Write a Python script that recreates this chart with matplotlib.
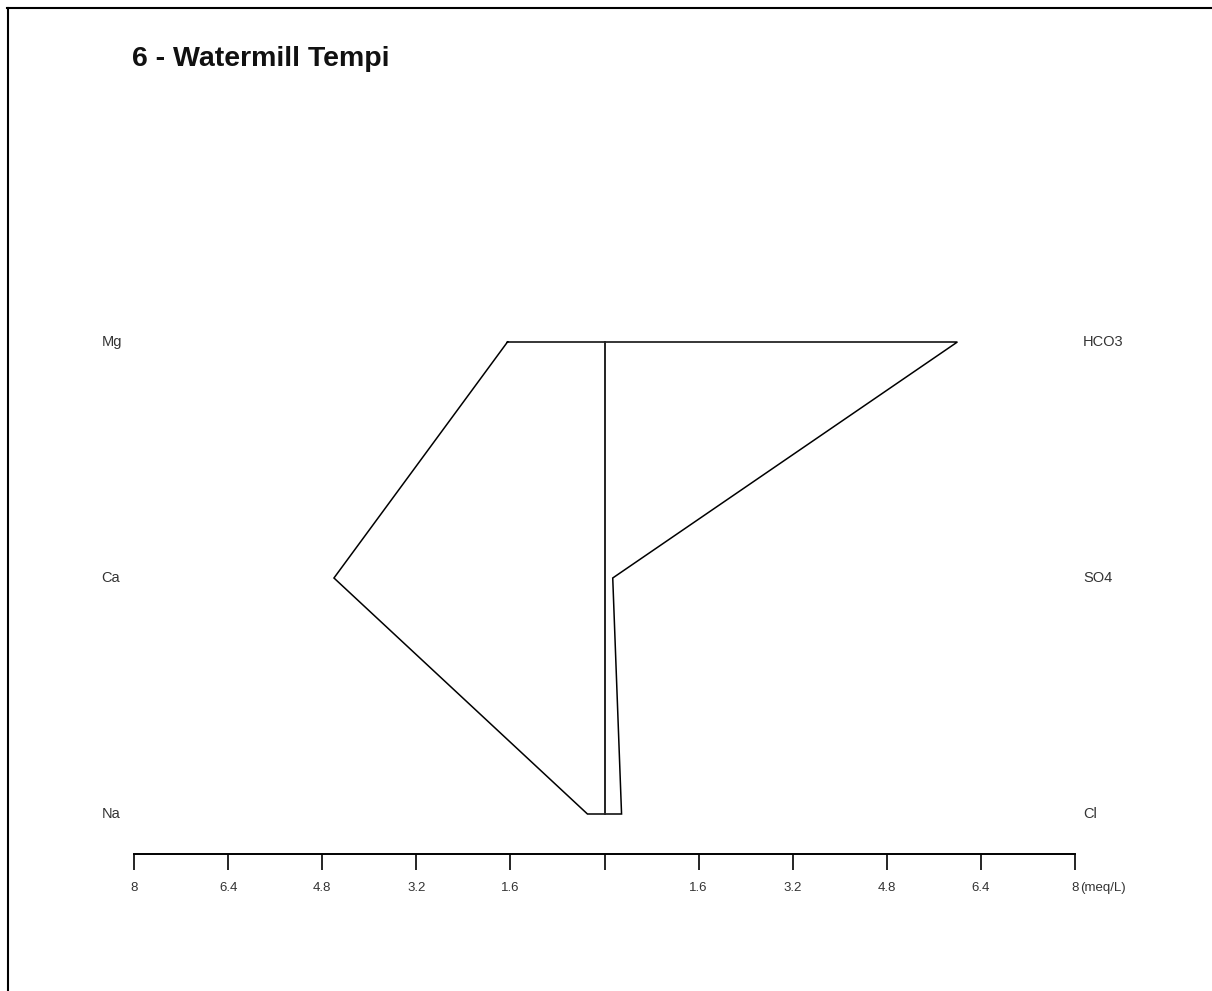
import matplotlib
matplotlib.use("Agg")
import matplotlib.pyplot as plt
from matplotlib.lines import Line2D

plt.rcParams['font.family'] = ['Liberation Sans', 'DejaVu Sans']

# Stiff diagram data (meq/L)
title = "6 - Watermill Tempi"
cations = ["Na", "Ca", "Mg"]          # bottom to top
cation_values = [0.29, 4.60, 1.65]
anions = ["Cl", "SO4", "HCO3"]        # bottom to top
anion_values = [0.29, 0.14, 6.00]
tick_values = [-8, -6.4, -4.8, -3.2, -1.6, 0, 1.6, 3.2, 4.8, 6.4, 8]
tick_labels = ["8", "6.4", "4.8", "3.2", "1.6", "", "1.6", "3.2", "4.8", "6.4", "8"]
unit_label = "(meq/L)"

W, H = 1212, 991
fig = plt.figure(figsize=(W / 100, H / 100), dpi=100)
fig.patch.set_facecolor("white")

# Axes box: x from -8..8, rows at 0,1,2
left_px, right_px = 134, 1075
top_px, base_px = 342, 854
row0_px = 814
row_step = (row0_px - top_px) / 2.0
ymin = -(base_px - row0_px) / row_step
ax = fig.add_axes([left_px / W, (H - base_px) / H,
                   (right_px - left_px) / W, (base_px - top_px) / H])
ax.set_xlim(-8, 8)
ax.set_ylim(ymin, 2)
ax.set_facecolor("none")
for s in ["top", "left", "right"]:
    ax.spines[s].set_visible(False)
ax.spines["bottom"].set_linewidth(1.4)
ax.set_yticks([])
ax.set_xticks(tick_values)
ax.set_xticklabels(tick_labels)
ax.tick_params(axis="x", direction="out", length=11.5, width=1.2,
               pad=8.5, labelsize=9.5, labelcolor="#333333")

rows = list(range(len(cations)))

# Polygon: cations on the left (negative), anions on the right
poly_x = [-cation_values[2], anion_values[2], anion_values[1], anion_values[0],
          -cation_values[0], -cation_values[1], -cation_values[2]]
poly_y = [rows[2], rows[2], rows[1], rows[0], rows[0], rows[1], rows[2]]
ax.plot(poly_x, poly_y, color="black", lw=1.1, clip_on=False,
        solid_joinstyle="miter")

# Center line
ax.plot([0, 0], [rows[0], rows[2]], color="#222222", lw=1.4, clip_on=False)

# Ion labels
for r, name in zip(rows, cations):
    ax.text(-8.55, r, name, ha="left", va="center", fontsize=10.5,
            color="#333333", clip_on=False)
for r, name in zip(rows, anions):
    ax.text(8.14, r, name, ha="left", va="center", fontsize=10.5,
            color="#333333", clip_on=False)

# Unit label after the last tick
ax.annotate(unit_label, xy=(tick_values[-1], 0), xycoords=("data", "axes fraction"),
            xytext=(5, -34), textcoords="offset pixels",
            ha="left", va="center", fontsize=9.5, color="#333333",
            annotation_clip=False)

# Title
fig.text(132 / W, 1 - 59.5 / H, title, ha="left", va="center",
         fontsize=20.5, fontweight="bold", color="#111111")

# Outer frame lines (top and left)
fig.add_artist(Line2D([7 / W, 1.0], [1 - 7.5 / H, 1 - 7.5 / H],
                      transform=fig.transFigure, color="black", lw=1.5))
fig.add_artist(Line2D([7.5 / W, 7.5 / W], [0, 1 - 7.5 / H],
                      transform=fig.transFigure, color="black", lw=1.5))

fig.savefig("out.png", dpi=100, facecolor="white")
